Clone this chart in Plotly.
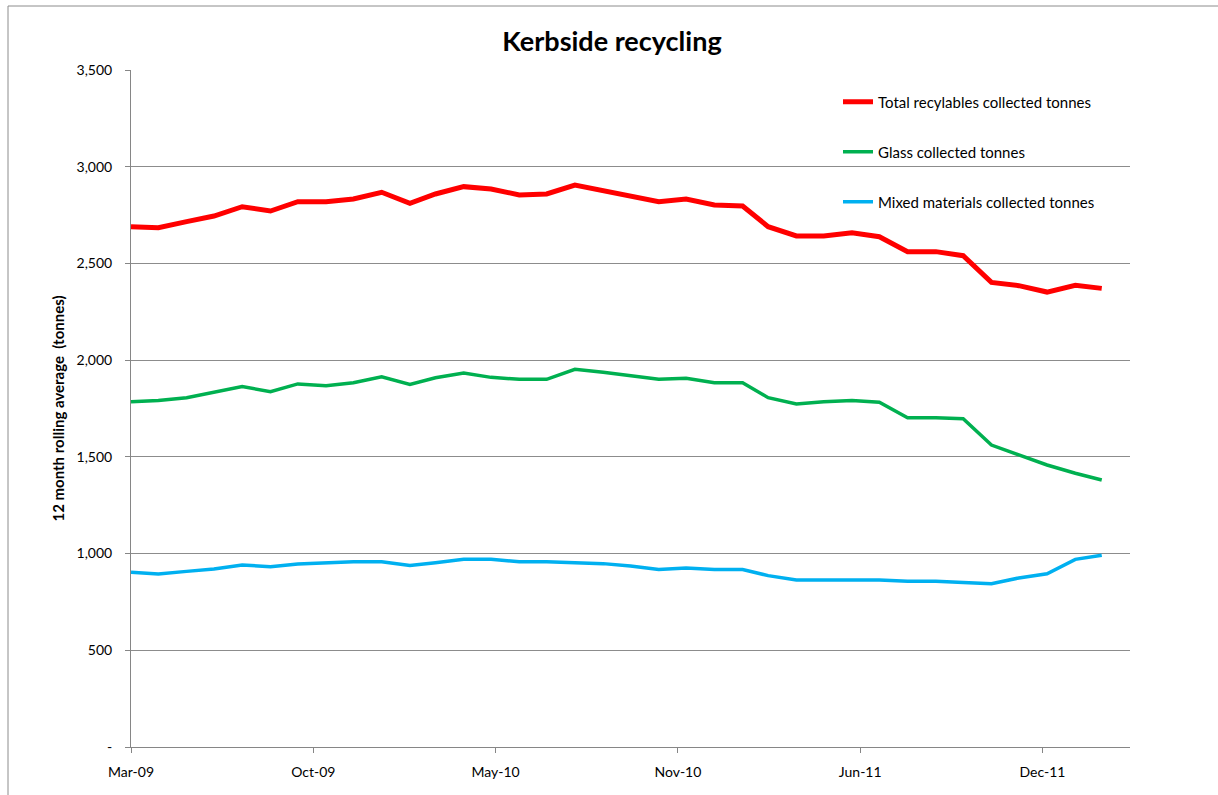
import pandas as pd
import plotly.graph_objects as go

# Month-end dates, Mar-09 .. Feb-12
months = pd.date_range("2009-03-31", periods=36, freq="ME")

total_recyclables = [2690, 2685, 2716, 2745, 2793, 2771, 2819, 2819, 2833, 2868, 2811, 2859,
                     2897, 2885, 2854, 2859, 2905, 2876, 2849, 2819, 2833, 2802, 2797, 2690,
                     2642, 2642, 2659, 2638, 2561, 2561, 2540, 2402, 2385, 2352, 2387, 2371]
glass = [1785, 1792, 1806, 1832, 1863, 1837, 1877, 1868, 1883, 1914, 1875, 1909,
         1933, 1911, 1901, 1901, 1953, 1937, 1918, 1901, 1906, 1883, 1883, 1806,
         1773, 1785, 1792, 1782, 1702, 1702, 1697, 1561, 1510, 1458, 1415, 1380]
mixed = [903, 894, 908, 920, 941, 932, 946, 953, 958, 958, 939, 953,
         970, 970, 958, 958, 953, 948, 936, 918, 925, 918, 918, 886,
         863, 863, 863, 863, 857, 857, 851, 844, 874, 896, 970, 991]

series_names = ["Total recylables collected tonnes", "Glass collected tonnes",
                "Mixed materials collected tonnes"]
y_tickvals = [0, 500, 1000, 1500, 2000, 2500, 3000, 3500]
y_ticktext = ["-", "500", "1,000", "1,500", "2,000", "2,500", "3,000", "3,500"]

FONT = "Lato, 'Open Sans', sans-serif"

# plot area geometry (pixels)
W, H = 1218, 795
L, R, T, B = 131, 88, 70, 48
pw, ph = W - L - R, H - T - B

def px_to_paper_x(x):
    return (x - L) / pw

def px_to_paper_y(y):
    return (H - B - y) / ph

fig = go.Figure()
colors = ["#FF0000", "#00B050", "#00B0F0"]
widths = [5, 3.5, 3.5]
data = [total_recyclables, glass, mixed]
legends = ["legend", "legend2", "legend3"]
for name, vals, c, w, lg in zip(series_names, data, colors, widths, legends):
    fig.add_trace(go.Scatter(x=months, y=vals, mode="lines", name=name,
                             line=dict(color=c, width=w), legend=lg, showlegend=True))

leg_common = dict(x=px_to_paper_x(838), xanchor="left", yanchor="middle",
                  bgcolor="rgba(0,0,0,0)", font=dict(family=FONT, size=15, color="#000"),
                  itemwidth=30)
fig.update_layout(
    width=W, height=H,
    showlegend=True,
    margin=dict(l=L, r=R, t=T, b=B, autoexpand=False),
    paper_bgcolor="white", plot_bgcolor="white",
    title=dict(text="<b>Kerbside recycling</b>", x=612 / W, xanchor="center",
               y=1 - 42 / H, yanchor="middle",
               font=dict(family=FONT, size=27, color="#000")),
    legend=dict(y=px_to_paper_y(102), **leg_common),
    legend2=dict(y=px_to_paper_y(152), **leg_common),
    legend3=dict(y=px_to_paper_y(202), **leg_common),
    xaxis=dict(
        type="date", range=["2009-03-31", "2012-03-31"],
        tick0="2009-03-31", dtick=200 * 86400000, tickformat="%b-%y",
        ticks="outside", ticklen=5, tickcolor="#868686",
        ticklabelstandoff=7,
        showline=True, linecolor="#868686", linewidth=1,
        showgrid=False, zeroline=False,
        tickfont=dict(family=FONT, size=14, color="#000"),
        fixedrange=True,
    ),
    yaxis=dict(
        range=[0, 3500], tickvals=y_tickvals, ticktext=y_ticktext,
        ticks="outside", ticklen=5, tickcolor="#868686",
        ticklabelstandoff=10,
        showline=True, linecolor="#868686", linewidth=1,
        showgrid=True, gridcolor="#8c8c8c", gridwidth=1, zeroline=False,
        tickfont=dict(family=FONT, size=14, color="#000"),
        title=dict(text="<b>12 month rolling average  (tonnes)</b>", standoff=8,
                   font=dict(family=FONT, size=15, color="#000")),
        fixedrange=True,
    ),
)

# outer chart frame (top and left edges visible in the reference)
fig.add_shape(type="line", xref="paper", yref="paper",
              x0=px_to_paper_x(8), x1=px_to_paper_x(1230),
              y0=px_to_paper_y(6), y1=px_to_paper_y(6),
              line=dict(color="#8c8c8c", width=1))
fig.add_shape(type="line", xref="paper", yref="paper",
              x0=px_to_paper_x(8), x1=px_to_paper_x(8),
              y0=px_to_paper_y(6), y1=px_to_paper_y(800),
              line=dict(color="#8c8c8c", width=1))

fig.write_html("out.html", config={"displayModeBar": False},
               post_script="document.body.style.margin='0';")
